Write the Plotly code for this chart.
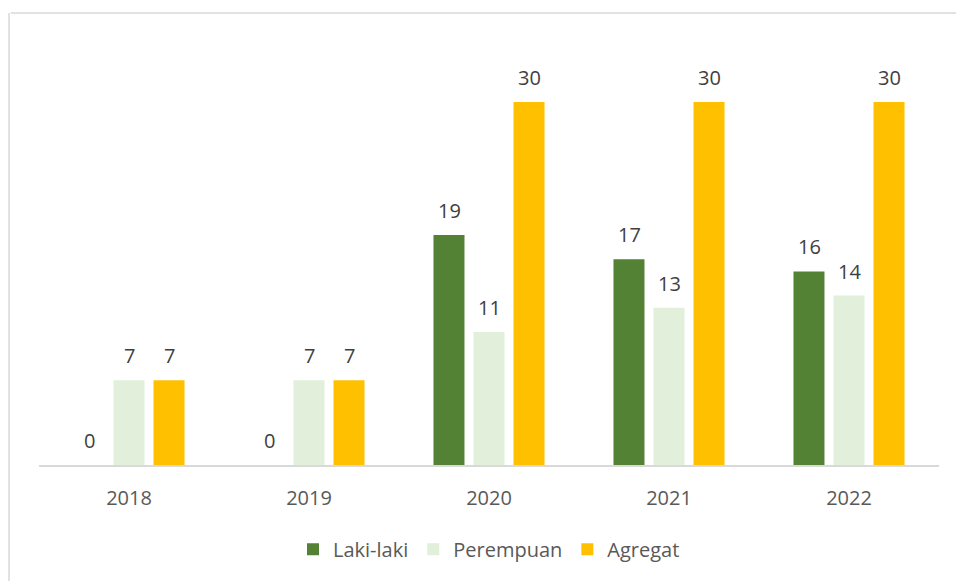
import plotly.graph_objects as go

years = ["2018", "2019", "2020", "2021", "2022"]
laki = [0, 0, 19, 17, 16]
perempuan = [7, 7, 11, 13, 14]
agregat = [7, 7, 30, 30, 30]

series = [
    ("Laki-laki", laki, "#548235"),
    ("Perempuan", perempuan, "#E2EFDA"),
    ("Agregat", agregat, "#FFC000"),
]

SLOT_PX = 40  # width of one bar slot inside a year group

fig = go.Figure()
annotations = []
for i, (name, vals, color) in enumerate(series):
    fig.add_trace(go.Bar(
        x=years, y=vals, name=name,
        marker=dict(color=color, line=dict(width=0)),
    ))
    # value labels above each bar (x given as category position)
    for j, v in enumerate(vals):
        annotations.append(dict(
            x=j, y=v, xref="x", yref="y", text=str(v), showarrow=False,
            xshift=(i - 1) * SLOT_PX, yshift=9, yanchor="bottom",
            font=dict(family="Open Sans", size=20, color="#404040"),
        ))

fig.update_layout(
    width=956, height=581,
    margin=dict(l=39, r=17, t=42, b=116),
    paper_bgcolor="white", plot_bgcolor="white",
    barmode="group", bargap=0.333, bargroupgap=0.225,
    font=dict(family="Open Sans", size=20, color="#595959"),
    showlegend=True,
    legend=dict(orientation="h", x=0.5, xanchor="center", y=-0.199, yanchor="middle",
                font=dict(size=20, color="#595959"), itemwidth=30, traceorder="normal"),
    xaxis=dict(type="category", range=[-0.5, len(years) - 0.5], showline=True,
               linecolor="#D9D9D9", linewidth=1.5,
               ticks="", tickfont=dict(size=20, color="#595959"), showgrid=False,
               ticklabelstandoff=14),
    yaxis=dict(range=[0, 34.96], visible=False, showgrid=False, zeroline=False),
    annotations=annotations,
    shapes=[
        dict(type="line", xref="paper", yref="paper", x0=-0.0314, x1=1.02,
             y0=1.0686, y1=1.0686, line=dict(color="#D9D9D9", width=1.5)),
        dict(type="line", xref="paper", yref="paper", x0=-0.0333, x1=-0.0333,
             y0=1.0686, y1=-0.3, line=dict(color="#D9D9D9", width=1.5)),
    ],
)

fig.write_html("out.html")
